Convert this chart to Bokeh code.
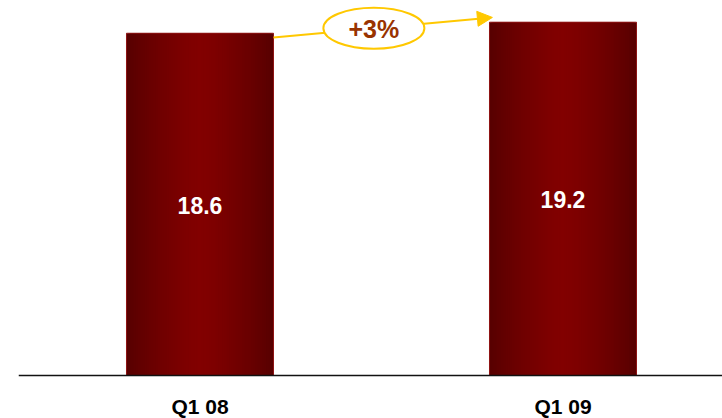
from bokeh.plotting import figure
from bokeh.models import Range1d, Span, Arrow, NormalHead
from bokeh.core.properties import value
from bokeh.embed import file_html
from bokeh.resources import INLINE

# ---- data ----
categories = ["Q1 08", "Q1 09"]
values = [18.6, 19.2]
value_labels = ["18.6", "19.2"]
change_label = "+3%"

# ---- style ----
FONT = "Liberation Sans"
GOLD = "#FFC800"
BAR_W = 0.405
x_pos = list(range(len(categories)))

p = figure(width=722, height=418,
           x_range=Range1d(-0.5, 1.4394), y_range=Range1d(-2.337, 20.38),
           output_backend="svg", toolbar_location=None,
           min_border_left=18, min_border_right=0, min_border_top=0, min_border_bottom=0)
p.axis.visible = False
p.grid.visible = False
p.outline_line_color = None
p.background_fill_color = "white"

# gradient bars: nested rectangles, darker outside, brighter toward the centre
K = 40
edge = (0x58, 0x00, 0x00)
center = (0x82, 0x00, 0x00)
for k in range(K):
    f = 1 - k / K              # width fraction
    d = f ** 1.4
    c = tuple(int(round(center[j] + (edge[j] - center[j]) * d)) for j in range(3))
    col = "#%02x%02x%02x" % c
    p.vbar(x=x_pos, width=BAR_W * f, top=values, bottom=0,
           fill_color=col, line_color=None)
p.vbar(x=x_pos, width=BAR_W, top=values, bottom=0, fill_color=None,
       line_color="#8e1414", line_width=1)

# baseline
p.add_layout(Span(location=0, dimension="width", line_color="#111111", line_width=1.3))

# value labels
p.text(x=x_pos, y=[v / 2 for v in values], text=value_labels,
       text_font=value(FONT), text_font_style="bold", text_font_size="23px",
       text_color="white", text_align="center", text_baseline="middle", y_offset=1)

# category labels
p.text(x=x_pos, y=[0] * len(x_pos), text=categories,
       text_font=value(FONT), text_font_style="bold", text_font_size="21px",
       text_color="black", text_align="center", text_baseline="middle", y_offset=31)

# growth arrow
xs = x_pos[0] + BAR_W / 2
xe = x_pos[1] - BAR_W / 2 + 0.008
ys = values[0] - 0.23
ye = values[1] + 0.26
p.add_layout(Arrow(x_start=xs, y_start=ys, x_end=xe, y_end=ye,
                   line_color=GOLD, line_width=2,
                   end=NormalHead(size=15, fill_color=GOLD, line_color=GOLD, line_width=1)))

cx = (xs + xe) / 2 - 0.025
cy = ys + (cx - xs) / (xe - xs) * (ye - ys)
p.ellipse(x=[cx], y=[cy], width=101, height=41, width_units="screen", height_units="screen",
          fill_color="white", line_color=GOLD, line_width=2, level="overlay")
p.text(x=[cx], y=[cy], text=[change_label], text_font=value(FONT), text_font_style="bold",
       text_font_size="25px", text_color="#993300", text_align="center",
       text_baseline="middle", level="overlay", y_offset=1)

open("out.html", "w").write(file_html(p, INLINE))
